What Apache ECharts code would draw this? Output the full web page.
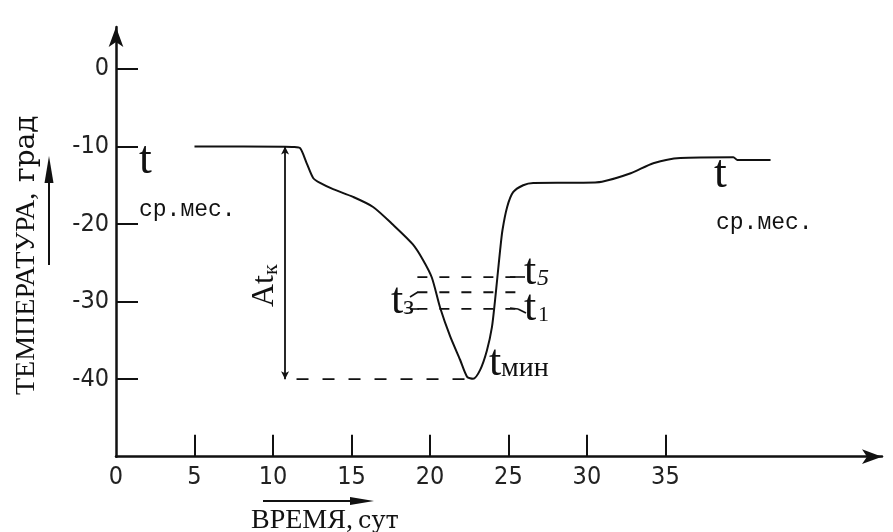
<!DOCTYPE html>
<html><head><meta charset="utf-8">
<script src="https://cdn.jsdelivr.net/npm/echarts@6/dist/echarts.min.js"></script>
<style>html,body{margin:0;padding:0;background:#fff}#c{width:893px;height:532px}</style>
</head><body><div id="c"></div>
<script>
// ---- data ----
const timeDays = [5.0, 10.77, 11.28, 11.73, 12.15, 12.56, 13.0, 13.83, 15.1, 16.38, 17.65, 18.9, 19.55, 20.12, 20.65, 21.29, 21.92, 22.37, 22.75, 23.2, 23.63, 23.95, 24.15, 24.3, 24.47, 24.62, 24.92, 25.3, 25.94, 26.58, 29.57, 30.96, 32.79, 34.23, 35.95, 39.33, 39.59, 41.7];
const temps    = [-10.0, -10.03, -10.06, -10.23, -12.17, -14.06, -14.7, -15.5, -16.5, -17.8, -20.1, -22.6, -24.6, -26.9, -30.8, -34.5, -37.5, -39.7, -39.95, -38.8, -36.3, -33.3, -29.8, -26.8, -23.4, -20.8, -17.8, -15.9, -15.0, -14.7, -14.67, -14.54, -13.46, -12.17, -11.5, -11.4, -11.74, -11.74];
const xTickValues  = [5, 10, 15, 20, 25, 30, 35];
const xLabelValues = [0, 5, 10, 15, 20, 25, 30, 35];
const yTickValues  = [0, -10, -20, -30, -40];
const levelValues  = [-26.84, -28.8, -30.95];   // t5, t3, t1
const levelSpan    = [19.2, 25.6];
const minLevel     = -40;
const minSpan      = [11.5, 22.6];
const meanLevel    = -10;
const amplitudeDay = 10.77;

const tickFont = '"Liberation Sans Narrow","DejaVu Sans Condensed","Roboto Condensed","Arial Narrow",sans-serif';
const serif = '"Liberation Serif","Times New Roman",serif';
const dserif = '"DejaVu Serif",serif';
const mono = '"Liberation Mono","Courier New",monospace';

const curve = timeDays.map((d, i) => [d, temps[i]]);

const series = [{
  type: 'line', data: curve, showSymbol: false, smooth: 0.25, silent: true,
  lineStyle: { color: '#111', width: 2 }
}];
levelValues.forEach(v => series.push({
  type: 'line', data: [[levelSpan[0], v], [levelSpan[1], v]], showSymbol: false, silent: true,
  lineStyle: { color: '#111', width: 1.8, type: [10, 12] }
}));
series.push({
  type: 'line', data: [[minSpan[0], minLevel], [minSpan[1], minLevel]], showSymbol: false, silent: true,
  lineStyle: { color: '#111', width: 1.8, type: [12, 14] }
});
series.push({
  type: 'line', data: [], silent: true,
  markLine: {
    silent: true, symbol: ['arrow', 'arrow'], symbolSize: [6, 8], label: { show: false },
    lineStyle: { color: '#111', width: 1.8, type: 'solid' },
    data: [[{ coord: [amplitudeDay, meanLevel] }, { coord: [amplitudeDay, minLevel] }]]
  }
});

// text helpers (baseline-positioned)
const ctx = document.createElement('canvas').getContext('2d');
const measure = (font, s) => { ctx.font = font; return ctx.measureText(s).width; };
const MID = 0.3375;
const size = f => parseFloat(f.replace(/^[a-z ]+/i, ''));
const T = (text, x, base, font, extra) => Object.assign({ type: 'text', x, y: base - MID * size(font), silent: true,
  style: Object.assign({ text, font, fill: '#111', align: 'left', verticalAlign: 'middle' }, extra || {}) });
const L = (x1, y1, x2, y2, w) => ({ type: 'line', silent: true, shape: { x1, y1, x2, y2 }, style: { stroke: '#111', lineWidth: w || 1.6 } });

const fBig = '46px ' + serif;
const fT = '44px ' + serif;
const fA = '32px ' + serif, fK = '22px ' + serif;
const fYn = '28px ' + serif, fYs = '28px ' + dserif;
const fXn = '28px ' + serif, fXs = '24px ' + dserif;

const chart = echarts.init(document.getElementById('c'), null, { renderer: 'canvas' });
chart.setOption({
  animation: false,
  backgroundColor: '#fff',
  grid: { left: 116, right: 11, top: 27, bottom: 75.3, containLabel: false, outerBoundsMode: 'none' },
  xAxis: {
    type: 'value', min: 0, max: 48.8, interval: 5,
    axisLine: { onZero: false, symbol: ['none', 'arrow'], symbolSize: [11, 20], lineStyle: { color: '#111', width: 2.5 } },
    axisTick: { show: true, inside: true, length: 22, customValues: xTickValues, lineStyle: { color: '#111', width: 2 } },
    axisLabel: { customValues: xLabelValues, margin: 8, color: '#222', fontSize: 25, fontFamily: tickFont },
    splitLine: { show: false }
  },
  yAxis: {
    type: 'value', min: -50, max: 5.4, interval: 10,
    axisLine: { onZero: false, symbol: ['none', 'arrow'], symbolSize: [11, 20], lineStyle: { color: '#111', width: 2.5 } },
    axisTick: { show: true, inside: true, length: 22, customValues: yTickValues, lineStyle: { color: '#111', width: 2 } },
    axisLabel: { customValues: yTickValues, margin: 7, color: '#222', fontSize: 25, fontFamily: tickFont },
    splitLine: { show: false }
  },
  series,
  graphic: [
    T('t', 139, 176, fBig),
    T('ср.мес.', 139, 218, '23px ' + mono),
    T('t', 714, 190, fBig),
    T('ср.мес.', 716, 231, '23px ' + mono),
    T('t', 524, 287, fT),
    T('5', 537, 287, 'italic 24px ' + serif),
    T('t', 524, 323, fT),
    T('1', 538, 323, '22px ' + serif),
    T('t', 391, 316, fT),
    T('з', 403, 316, '28px ' + serif),
    T('t', 489, 378, fT),
    T('мин', 501, 378, '28px ' + serif),
    L(510, 277, 525, 277), L(510, 308, 518, 309), L(518, 309, 526, 313),
    L(410, 297, 418, 292), L(410, 309, 419, 309),
    // "Atк" rotated
    { type: 'group', x: 275, y: 307, rotation: Math.PI / 2, silent: true, children: [
      T('At', 0, 0, fA),
      T('к', measure(fA, 'At'), 4, fK)
    ] },
    // y axis name rotated
    { type: 'group', x: 36, y: 395, rotation: Math.PI / 2, silent: true, children: [
      T('ТЕМПЕРАТУРА,', 0, 0, fYn),
      T('град', 213, 0, fYs)
    ] },
    L(49, 265, 49, 170, 2),
    { type: 'polygon', silent: true, shape: { points: [[44.5, 183], [49, 156], [53.5, 183]] }, style: { fill: '#111' } },
    // x axis name
    T('ВРЕМЯ,', 251, 530, fXn),
    T('сут', 358, 530, fXs),
    L(263, 501, 360, 501, 2),
    { type: 'polygon', silent: true, shape: { points: [[350, 497], [374, 501], [350, 505]] }, style: { fill: '#111' } }
  ]
});
</script></body></html>
